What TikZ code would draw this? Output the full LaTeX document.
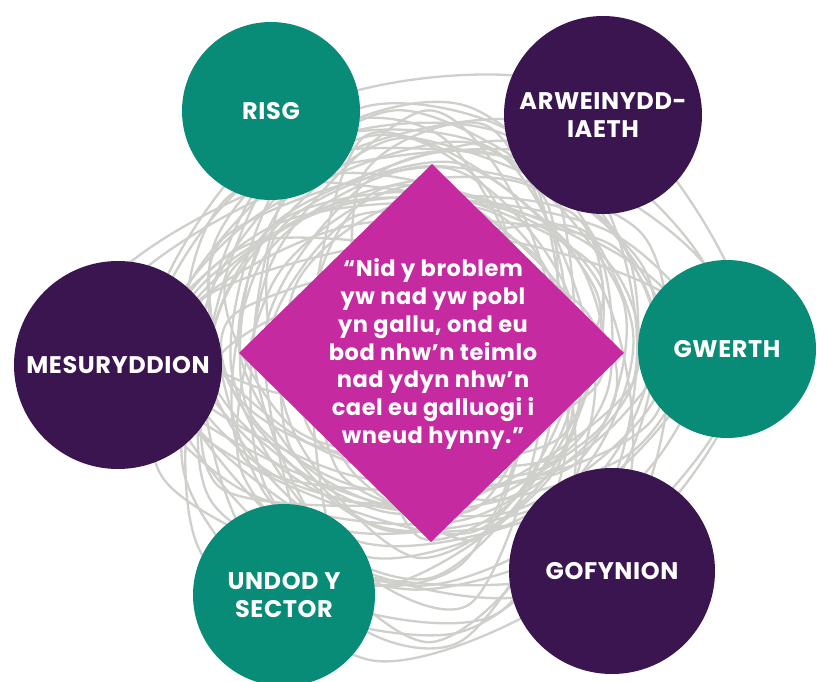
\documentclass[tikz,border=0pt]{standalone}
\usepackage{fontspec}
\setmainfont{Poppins}[LetterSpace=2.5]
\definecolor{cteal}{RGB}{8,139,119}
\definecolor{cpurple}{RGB}{58,21,80}
\definecolor{cmag}{RGB}{198,42,160}
\definecolor{cgrey}{RGB}{207,207,203}
\tikzset{
  scribble/.style={draw=cgrey, line width=2.3pt},
  blob/.style={circle, inner sep=0pt, align=center, text=white,
    font=\bfseries\fontsize{24}{28}\selectfont},
  tealblob/.style={blob, fill=cteal},
  purpblob/.style={blob, fill=cpurple},
  quotebox/.style={align=center, text=white, inner sep=0pt,
    font=\bfseries\fontsize{22.5}{27.8}\selectfont}
}
\begin{document}
\begin{tikzpicture}[x=1pt,y=-1pt]
\useasboundingbox (0,0) rectangle (817,682);
\fill[white] (0,0) rectangle (817,682);
% tangled background lines
\pgfmathsetseed{31}
\foreach \i in {1,...,40}{
  \pgfmathsetmacro\cx{420+40*rand}
  \pgfmathsetmacro\cy{358+40*rand}
  \pgfmathsetmacro\rx{190+85*rand}
  \pgfmathsetmacro\ry{182+80*rand}
  \pgfmathsetmacro\ph{180*rand}
  \draw[scribble] plot[smooth cycle, samples=6, domain=0:300]
    ({\cx+(\rx+40*rand)*cos(\x+\ph)},{\cy+(\ry+40*rand)*sin(\x+\ph)});
}
% central diamond
\fill[cmag] (432,164) -- (624,353) -- (431,542) -- (239,353) -- cycle;
\node[quotebox] (quote) at (433,354) {“Nid y broblem\\yw nad yw pobl\\yn gallu, ond eu\\bod nhw’n teimlo\\nad ydyn nhw’n\\cael eu galluogi i\\wneud hynny.”};
% circles
\node[tealblob, minimum size=178pt] (risg) at (271,111) {RISG};
\node[purpblob, minimum size=198pt] (arw) at (603,115) {ARWEINYDD-\\IAETH};
\node[purpblob, minimum size=208pt] (mes) at (118,365) {MESURYDDION};
\node[tealblob, minimum size=178pt] (gwerth) at (727,349) {GWERTH};
\node[tealblob, minimum size=182pt] (undod) at (284,595) {UNDOD Y\\SECTOR};
\node[purpblob, minimum size=206pt] (gof) at (612,571) {GOFYNION};
\end{tikzpicture}
\end{document}
